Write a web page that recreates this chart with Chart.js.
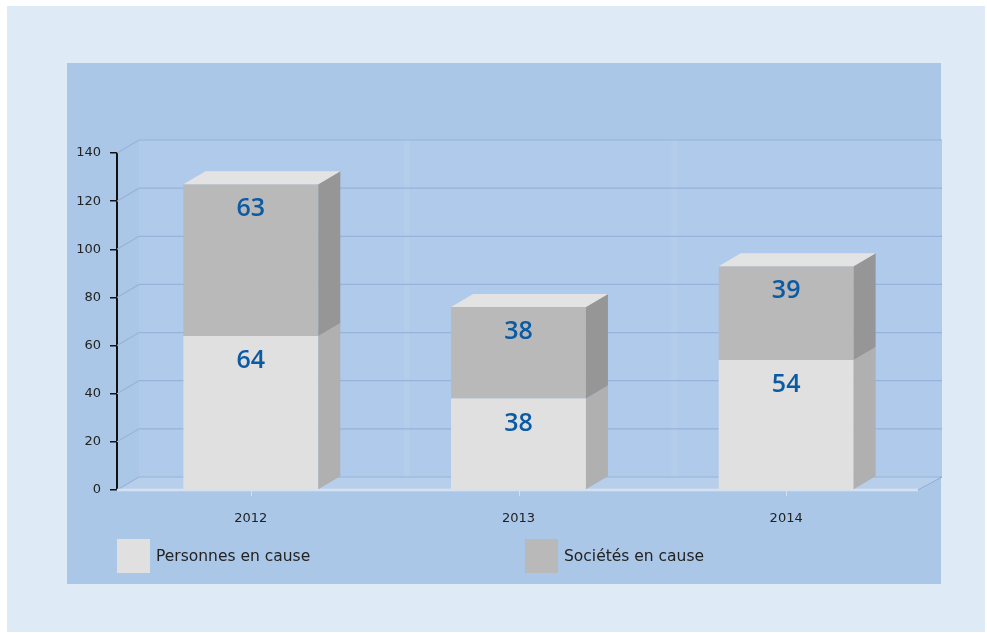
<!DOCTYPE html>
<html>
<head>
<meta charset="utf-8">
<script src="https://cdn.jsdelivr.net/npm/chart.js@4/dist/chart.umd.min.js"></script>
<style>
  html, body { margin: 0; padding: 0; background: #ffffff; }
  #outer { position: absolute; left: 7px; top: 6px; width: 978px; height: 626px; background: #deeaf6; }
  #panel { position: absolute; left: 67px; top: 63px; width: 874px; height: 521px; background: #abc7e8; }
  #wrap { position: absolute; left: 0; top: 0; width: 987px; height: 633px; }
  .leg { position: absolute; top: 539px; height: 34px; font-family: "DejaVu Sans", Verdana, sans-serif; font-size: 15.5px; color: #222; }
  .leg span.box { position: absolute; left: 0; top: 0; width: 33px; height: 34px; }
  .leg span.txt { position: absolute; left: 39px; top: 8px; white-space: nowrap; }
</style>
</head>
<body>
<div id="outer"></div>
<div id="panel"></div>
<div id="wrap"><canvas id="myChart" width="987" height="633"></canvas></div>
<div class="leg" style="left:117px"><span class="box" style="background:#e0e0e0"></span><span class="txt">Personnes en cause</span></div>
<div class="leg" style="left:525px"><span class="box" style="background:#b9b9b9"></span><span class="txt">Sociétés en cause</span></div>
<script>
'use strict'

const years = ['2012', '2013', '2014'];
const personnes = [64, 38, 54];
const societes = [63, 38, 39];
const yTicks = [0, 20, 40, 60, 80, 100, 120, 140];

const depthX = 22;
const depthY = 13;

// back wall, floor and grid lines, drawn behind the bars
const wallPlugin = {
  id: 'wall',
  beforeDatasetsDraw(chart) {
    const ctx = chart.ctx;
    const area = chart.chartArea;
    const y = chart.scales.y;
    const x = chart.scales.x;
    ctx.save();
    // back wall
    ctx.fillStyle = '#afcaea';
    ctx.fillRect(area.left + depthX, area.top - depthY, area.right - area.left, area.bottom - area.top);
    // faint column separators
    ctx.fillStyle = 'rgba(186,208,236,0.45)';
    for (let i = 1; i < years.length; i++) {
      const sx = (x.getPixelForValue(i - 1) + x.getPixelForValue(i)) / 2 + depthX;
      ctx.fillRect(sx - 3, area.top - depthY, 6, area.bottom - area.top);
    }
    // floor
    ctx.fillStyle = '#b8cfec';
    ctx.beginPath();
    ctx.moveTo(area.left, area.bottom);
    ctx.lineTo(area.right, area.bottom);
    ctx.lineTo(area.right + depthX, area.bottom - depthY);
    ctx.lineTo(area.left + depthX, area.bottom - depthY);
    ctx.closePath();
    ctx.fill();
    // grid lines
    ctx.strokeStyle = '#96b3d9';
    ctx.lineWidth = 1.2;
    for (const v of yTicks) {
      const py = y.getPixelForValue(v);
      ctx.beginPath();
      ctx.moveTo(area.left, py);
      ctx.lineTo(area.left + depthX, py - depthY);
      ctx.lineTo(area.right + depthX, py - depthY);
      ctx.stroke();
    }
    // floor front edge
    ctx.strokeStyle = '#d5e1f0';
    ctx.lineWidth = 2.5;
    ctx.beginPath();
    ctx.moveTo(area.left, area.bottom);
    ctx.lineTo(area.right - 2, area.bottom);
    ctx.stroke();
    ctx.strokeStyle = '#8eaad2';
    ctx.lineWidth = 1;
    ctx.beginPath();
    ctx.moveTo(area.right - 2, area.bottom);
    ctx.lineTo(area.right + depthX, area.bottom - depthY);
    ctx.stroke();
    // small x tick marks
    ctx.strokeStyle = '#d5e1f0';
    ctx.lineWidth = 1;
    for (let i = 0; i < years.length; i++) {
      const px = Math.round(x.getPixelForValue(i)) + 0.5;
      ctx.beginPath();
      ctx.moveTo(px, area.bottom);
      ctx.lineTo(px, area.bottom + 6);
      ctx.stroke();
    }
    ctx.restore();
  }
};

// side and top faces of the bars, plus value labels
const boxPlugin = {
  id: 'box3d',
  afterDatasetsDraw(chart) {
    const ctx = chart.ctx;
    const sideColors = ['#b0b0b0', '#969696'];
    ctx.save();
    chart.data.datasets.forEach((ds, di) => {
      const meta = chart.getDatasetMeta(di);
      meta.data.forEach((bar) => {
        const left = bar.x - bar.width / 2;
        const right = bar.x + bar.width / 2;
        ctx.fillStyle = sideColors[di];
        ctx.beginPath();
        ctx.moveTo(right, bar.y);
        ctx.lineTo(right + depthX, bar.y - depthY);
        ctx.lineTo(right + depthX, bar.base - depthY);
        ctx.lineTo(right, bar.base);
        ctx.closePath();
        ctx.fill();
        if (di === chart.data.datasets.length - 1) {
          ctx.fillStyle = '#e3e3e3';
          ctx.beginPath();
          ctx.moveTo(left, bar.y);
          ctx.lineTo(left + depthX, bar.y - depthY);
          ctx.lineTo(right + depthX, bar.y - depthY);
          ctx.lineTo(right, bar.y);
          ctx.closePath();
          ctx.fill();
        }
      });
    });
    ctx.fillStyle = '#0b5aa2';
    ctx.font = '600 25px "Open Sans", "DejaVu Sans", sans-serif';
    ctx.textAlign = 'center';
    ctx.textBaseline = 'middle';
    chart.data.datasets.forEach((ds, di) => {
      const meta = chart.getDatasetMeta(di);
      meta.data.forEach((bar, i) => {
        ctx.fillText(String(ds.data[i]), bar.x, bar.y + 25);
      });
    });
    ctx.restore();
  }
};

const ctx = document.getElementById('myChart').getContext('2d');

const myChart = new Chart(ctx, {
  type: 'bar',
  data: {
    labels: years,
    datasets: [{
      label: 'Personnes en cause',
      data: personnes,
      backgroundColor: '#e0e0e0',
      borderWidth: 0
    },
    {
      label: 'Sociétés en cause',
      data: societes,
      backgroundColor: '#b9b9b9',
      borderWidth: 0
    }]
  },
  options: {
    responsive: false,
    animation: false,
    events: [],
    layout: { padding: { left: 0, right: 67, top: 153, bottom: 0 } },
    categoryPercentage: 1,
    barPercentage: 0.504,
    plugins: {
      legend: { display: false },
      tooltip: { enabled: false }
    },
    scales: {
      x: {
        stacked: true,
        grid: { display: false, drawTicks: false },
        border: { display: false },
        ticks: {
          padding: 21,
          color: '#222',
          font: { family: '"DejaVu Sans", Verdana, sans-serif', size: 13 }
        },
        afterFit(scale) { scale.height = 143; }
      },
      y: {
        stacked: true,
        min: 0,
        max: 140,
        afterBuildTicks(scale) { scale.ticks = yTicks.map(v => ({ value: v })); },
        grid: { drawOnChartArea: false, drawTicks: true, tickLength: 7, color: '#111', lineWidth: 1.5 },
        border: { display: true, color: '#111', width: 2 },
        ticks: {
          padding: 9,
          color: '#222',
          font: { family: '"DejaVu Sans", Verdana, sans-serif', size: 13 }
        },
        afterFit(scale) { scale.width = 117; }
      }
    }
  },
  plugins: [wallPlugin, boxPlugin]
});
</script>
</body>
</html>
